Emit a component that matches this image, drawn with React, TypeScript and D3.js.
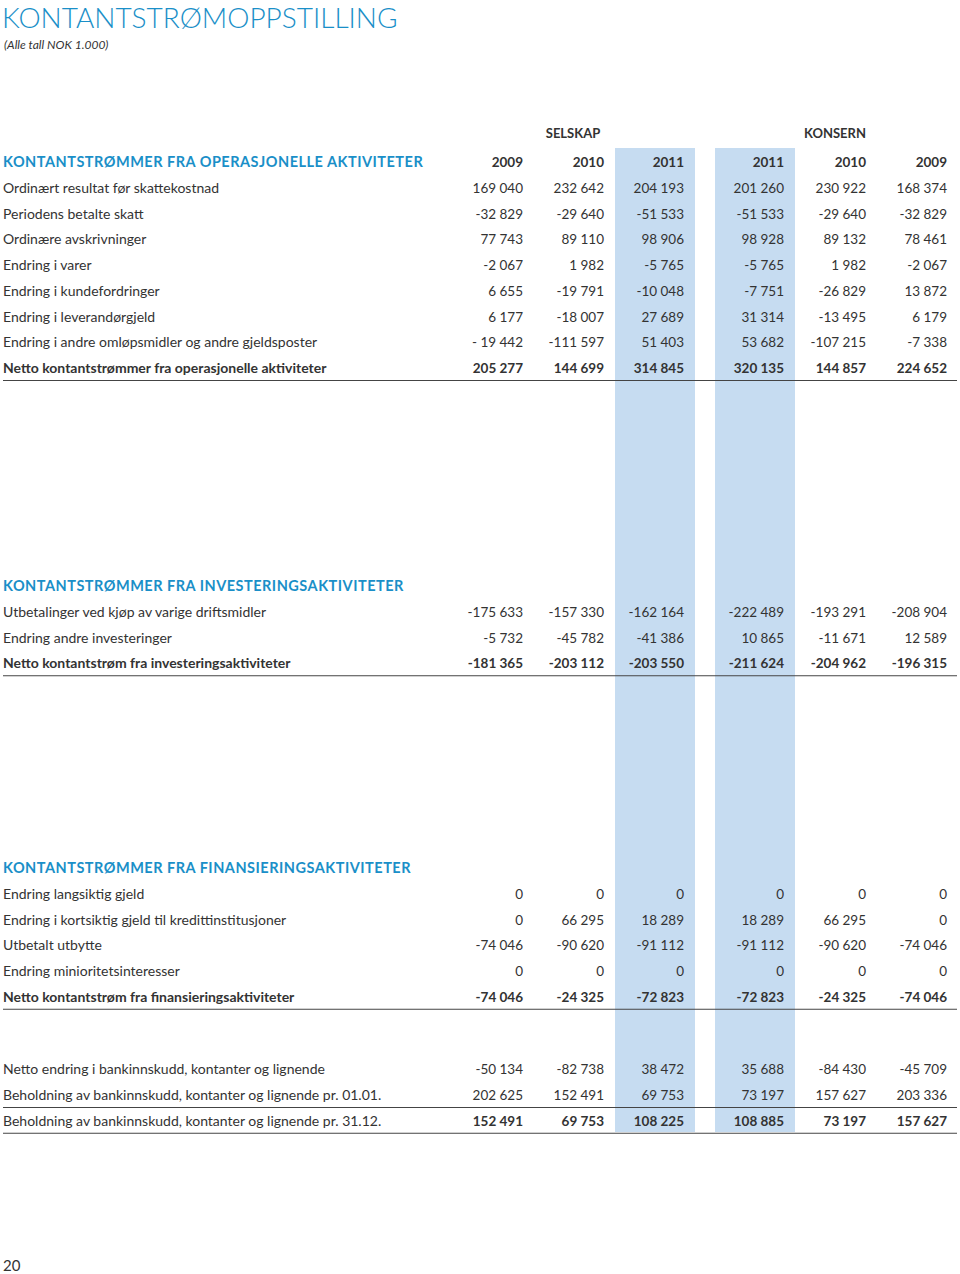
import React, { useEffect, useRef } from 'react';
import * as d3 from 'd3';

const width = 960;
const height = 1274;

const blue = '#1a8fc8';
const band = '#c6dcf1';
const ink = '#333333';
const font = 'Lato, "Open Sans", sans-serif';

// columns: selskap 2009-2011, konsern 2011-2009
const columns = ['s2009', 's2010', 's2011', 'k2011', 'k2010', 'k2009'];
const years = ['2009', '2010', '2011', '2011', '2010', '2009'];
const colRight = [523, 604, 684, 784, 866, 947];
const shaded = ['s2011', 'k2011'];

const opLabels = [
  'Ordinært resultat før skattekostnad',
  'Periodens betalte skatt',
  'Ordinære avskrivninger',
  'Endring i varer',
  'Endring i kundefordringer',
  'Endring i leverandørgjeld',
  'Endring i andre omløpsmidler og andre gjeldsposter',
  'Netto kontantstrømmer fra operasjonelle aktiviteter'
];
const opValues = [
  ['169 040', '232 642', '204 193', '201 260', '230 922', '168 374'],
  ['-32 829', '-29 640', '-51 533', '-51 533', '-29 640', '-32 829'],
  ['77 743', '89 110', '98 906', '98 928', '89 132', '78 461'],
  ['-2 067', '1 982', '-5 765', '-5 765', '1 982', '-2 067'],
  ['6 655', '-19 791', '-10 048', '-7 751', '-26 829', '13 872'],
  ['6 177', '-18 007', '27 689', '31 314', '-13 495', '6 179'],
  ['- 19 442', '-111 597', '51 403', '53 682', '-107 215', '-7 338'],
  ['205 277', '144 699', '314 845', '320 135', '144 857', '224 652']
];

const invLabels = [
  'Utbetalinger ved kjøp av varige driftsmidler',
  'Endring andre investeringer',
  'Netto kontantstrøm fra investeringsaktiviteter'
];
const invValues = [
  ['-175 633', '-157 330', '-162 164', '-222 489', '-193 291', '-208 904'],
  ['-5 732', '-45 782', '-41 386', '10 865', '-11 671', '12 589'],
  ['-181 365', '-203 112', '-203 550', '-211 624', '-204 962', '-196 315']
];

const finLabels = [
  'Endring langsiktig gjeld',
  'Endring i kortsiktig gjeld til kredittinstitusjoner',
  'Utbetalt utbytte',
  'Endring minioritetsinteresser',
  'Netto kontantstrøm fra finansieringsaktiviteter'
];
const finValues = [
  ['0', '0', '0', '0', '0', '0'],
  ['0', '66 295', '18 289', '18 289', '66 295', '0'],
  ['-74 046', '-90 620', '-91 112', '-91 112', '-90 620', '-74 046'],
  ['0', '0', '0', '0', '0', '0'],
  ['-74 046', '-24 325', '-72 823', '-72 823', '-24 325', '-74 046']
];

const endLabels = [
  'Netto endring i bankinnskudd, kontanter og lignende',
  'Beholdning av bankinnskudd, kontanter og lignende pr. 01.01.',
  'Beholdning av bankinnskudd, kontanter og lignende pr. 31.12.'
];
const endValues = [
  ['-50 134', '-82 738', '38 472', '35 688', '-84 430', '-45 709'],
  ['202 625', '152 491', '69 753', '73 197', '157 627', '203 336'],
  ['152 491', '69 753', '108 225', '108 885', '73 197', '157 627']
];

const sections = [
  { title: 'KONTANTSTRØMMER FRA OPERASJONELLE AKTIVITETER', labels: opLabels, values: opValues, top: 162, bold: [7], boldLabel: [7], rules: [7], years: true },
  { title: 'KONTANTSTRØMMER FRA INVESTERINGSAKTIVITETER', labels: invLabels, values: invValues, top: 586, bold: [2], boldLabel: [2], rules: [2], years: false },
  { title: 'KONTANTSTRØMMER FRA FINANSIERINGSAKTIVITETER', labels: finLabels, values: finValues, top: 868, bold: [4], boldLabel: [4], rules: [4], years: false },
  { title: '', labels: endLabels, values: endValues, top: 1043.5, bold: [2], boldLabel: [], rules: [1, 2], years: false }
];

export default function App() {
  const node = useRef<SVGSVGElement>(null);

  useEffect(() => {
    const svg = d3.select(node.current);
    svg.selectAll('*').remove();

    const x = d3.scaleOrdinal<string, number>().domain(columns).range(colRight);
    const rowStep = 25.75;

    // shaded columns
    svg.selectAll('rect.band')
      .data(shaded)
      .join('rect')
      .attr('class', 'band')
      .attr('x', d => x(d) - 69)
      .attr('y', 148)
      .attr('width', 80)
      .attr('height', 1132 - 148)
      .attr('fill', band);

    svg.append('text')
      .attr('x', 2)
      .attr('y', 28)
      .attr('fill', blue)
      .style('font', `300 28px ${font}`)
      .text('KONTANTSTRØMOPPSTILLING');

    svg.append('text')
      .attr('x', 4)
      .attr('y', 49)
      .attr('fill', ink)
      .style('font', `italic 12px ${font}`)
      .text('(Alle tall NOK 1.000)');

    const groups = [
      { name: 'SELSKAP', cx: 573 },
      { name: 'KONSERN', cx: 835 }
    ];
    svg.selectAll('text.group')
      .data(groups)
      .join('text')
      .attr('class', 'group')
      .attr('x', d => d.cx)
      .attr('y', 138)
      .attr('text-anchor', 'middle')
      .attr('fill', ink)
      .style('font', `bold 13px ${font}`)
      .text(d => d.name);

    sections.forEach(sec => {
      const y = d3.scaleLinear().domain([0, 1]).range([sec.top, sec.top + rowStep]);
      const g = svg.append('g');

      if (sec.title) {
        g.append('text')
          .attr('x', 3)
          .attr('y', y(0) + 5)
          .attr('fill', blue)
          .style('font', `bold 14.5px ${font}`)
          .style('letter-spacing', '0.5px')
          .text(sec.title);
      }
      if (sec.years) {
        g.selectAll('text.year')
          .data(columns)
          .join('text')
          .attr('class', 'year')
          .attr('x', d => x(d))
          .attr('y', y(0) + 5)
          .attr('text-anchor', 'end')
          .attr('fill', ink)
          .style('font', `bold 13.5px ${font}`)
          .text((d, i) => years[i]);
      }

      sec.labels.forEach((label, r) => {
        const bold = sec.bold.includes(r);
        const boldLabel = sec.boldLabel.includes(r);
        const cy = y(r + 1) + 5;
        g.append('text')
          .attr('x', 3)
          .attr('y', cy)
          .attr('fill', ink)
          .style('font', `${boldLabel ? 'bold' : 'normal'} 14px ${font}`)
          .text(label);
        g.selectAll(null)
          .data(sec.values[r])
          .join('text')
          .attr('x', (d, i) => x(columns[i]))
          .attr('y', cy)
          .attr('text-anchor', 'end')
          .attr('fill', ink)
          .style('font', `${bold ? 'bold' : 'normal'} 13.5px ${font}`)
          .text(d => d);
      });

      sec.rules.forEach(r => {
        const ly = y(r + 1) + 12.5;
        g.append('line')
          .attr('x1', 3)
          .attr('x2', 957)
          .attr('y1', ly)
          .attr('y2', ly)
          .attr('stroke', '#444')
          .attr('stroke-width', 1.2);
      });
    });

    svg.append('text')
      .attr('x', 3)
      .attr('y', 1271)
      .attr('fill', ink)
      .style('font', `15px ${font}`)
      .text('20');
  }, []);

  return (
    <div style={{ position: 'absolute', left: 0, top: 0 }}>
      <svg ref={node} width={width} height={height} style={{ display: 'block', background: '#fff' }} />
    </div>
  );
}
